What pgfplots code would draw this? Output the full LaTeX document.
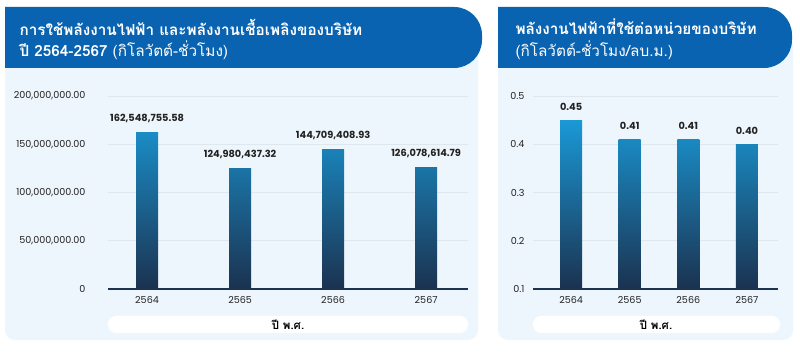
\documentclass[border=0pt]{standalone}
\usepackage{pgfplots}
\pgfplotsset{compat=1.18}
\usepackage{fontspec}
\setmainfont{Poppins}
\newfontfamily\thai[Script=Thai]{Loma}
\definecolor{hdr}{RGB}{9,99,176}
\definecolor{panel}{RGB}{238,246,253}
\definecolor{dark}{RGB}{27,50,80}
\definecolor{bright}{RGB}{26,156,218}
\definecolor{gridc}{RGB}{222,230,238}
\definecolor{txt}{RGB}{34,34,34}
\pgfplotsset{
  barstyle/.style={ybar, bar width=22pt, bar shift=0pt, draw=none, bottom color=dark},
  lblstyle/.style={draw=none, mark=none, nodes near coords, point meta=explicit symbolic,
    every node near coord/.style={anchor=south, yshift=6pt, text=txt, font=\bfseries\fontsize{9.8}{11}\selectfont}},
}
\begin{document}
\begin{tikzpicture}
\begin{scope}[x=1pt,y=1pt]
\fill[white] (0,0) rectangle (800,355);
\fill[panel, rounded corners=10pt] (5,15) rectangle (478,320);
\fill[panel, rounded corners=10pt] (498,15) rectangle (793,320);
\fill[hdr] (5,287) -- (454,287) arc[start angle=-90,end angle=0,radius=28] -- (482,320) arc[start angle=0,end angle=90,radius=28] -- (5,348) -- cycle;
\fill[hdr] (498,287) -- (764,287) arc[start angle=-90,end angle=0,radius=28] -- (792,320) arc[start angle=0,end angle=90,radius=28] -- (498,348) -- cycle;
\node[anchor=west, text=white, font=\thai\bfseries\fontsize{15.3}{18}\selectfont] at (16,328) {การใช้พลังงานไฟฟ้า และพลังงานเชื้อเพลิงของบริษัท};
\node[anchor=west, text=white, font=\thai\fontsize{15.3}{18}\selectfont] at (16,305) {{\bfseries ปี 2564-2567} (กิโลวัตต์-ชั่วโมง)};
\node[anchor=west, text=white, font=\thai\bfseries\fontsize{15.3}{18}\selectfont] at (512,328) {พลังงานไฟฟ้าที่ใช้ต่อหน่วยของบริษัท};
\node[anchor=west, text=white, font=\thai\fontsize{15.3}{18}\selectfont] at (512,305) {(กิโลวัตต์-ชั่วโมง/ลบ.ม.)};
\fill[white, rounded corners=8pt] (108,22) rectangle (468,39);
\fill[white, rounded corners=8pt] (533,22) rectangle (780,39);
\node[text=black, font=\thai\bfseries\fontsize{11.5}{13}\selectfont] at (288,30.5) {ปี พ.ศ.};
\node[text=black, font=\thai\bfseries\fontsize{11.5}{13}\selectfont] at (656,30.5) {ปี พ.ศ.};
\end{scope}

\begin{axis}[
  at={(108pt,66pt)}, anchor=south west,
  width=360pt, height=193pt, scale only axis,
  xmin=-0.42, xmax=3.45, ymin=0, ymax=200000000,
  scaled y ticks=false,
  axis x line*=bottom, axis y line*=left,
  x axis line style={-, draw=dark, line width=1.3pt},
  y axis line style={draw=none},
  ytick={0,50000000,100000000,150000000,200000000},
  yticklabels={0,{50,000,000.00},{100,000,000.00},{150,000,000.00},{200,000,000.00}},
  xtick={0,1,2,3}, xticklabels={2564,2565,2566,2567},
  ymajorgrids, grid style={gridc, line width=0.6pt},
  major tick length=0pt,
  ticklabel style={font=\fontsize{9.6}{11}\selectfont, text=txt},
  yticklabel style={xshift=-19pt},
  xticklabel style={yshift=-4pt},
  clip=false,
]
\addplot[barstyle, top color=bright!85!dark] coordinates {(0,162548755.58)};
\addplot[barstyle, top color=bright!62!dark] coordinates {(1,124980437.32)};
\addplot[barstyle, top color=bright!75!dark] coordinates {(2,144709408.93)};
\addplot[barstyle, top color=bright!63!dark] coordinates {(3,126078614.79)};
\addplot[lblstyle] coordinates {
  (0,162548755.58) [{162,548,755.58}]
  (1,124980437.32) [{124,980,437.32}]
  (2,144709408.93) [{144,709,408.93}]
  (3,126078614.79) [{126,078,614.79}]
};
\end{axis}

\begin{axis}[
  at={(533pt,66pt)}, anchor=south west,
  width=245pt, height=193pt, scale only axis,
  xmin=-0.65, xmax=3.53, ymin=0.1, ymax=0.5,
  axis x line*=bottom, axis y line*=left,
  x axis line style={-, draw=dark, line width=1.3pt},
  y axis line style={draw=none},
  ytick={0.1,0.2,0.3,0.4,0.5},
  yticklabels={0.1,0.2,0.3,0.4,0.5},
  xtick={0,1,2,3}, xticklabels={2564,2565,2566,2567},
  ymajorgrids, grid style={gridc, line width=0.6pt},
  major tick length=0pt,
  ticklabel style={font=\fontsize{9.6}{11}\selectfont, text=txt},
  yticklabel style={xshift=-5pt},
  xticklabel style={yshift=-4pt},
  clip=false,
]
\addplot[barstyle, top color=bright!97!dark] coordinates {(0,0.45)};
\addplot[barstyle, top color=bright!82!dark] coordinates {(1,0.41)};
\addplot[barstyle, top color=bright!82!dark] coordinates {(2,0.41)};
\addplot[barstyle, top color=bright!78!dark] coordinates {(3,0.40)};
\addplot[lblstyle] coordinates {
  (0,0.45) [0.45]
  (1,0.41) [0.41]
  (2,0.41) [0.41]
  (3,0.40) [0.40]
};
\end{axis}
\end{tikzpicture}
\end{document}
